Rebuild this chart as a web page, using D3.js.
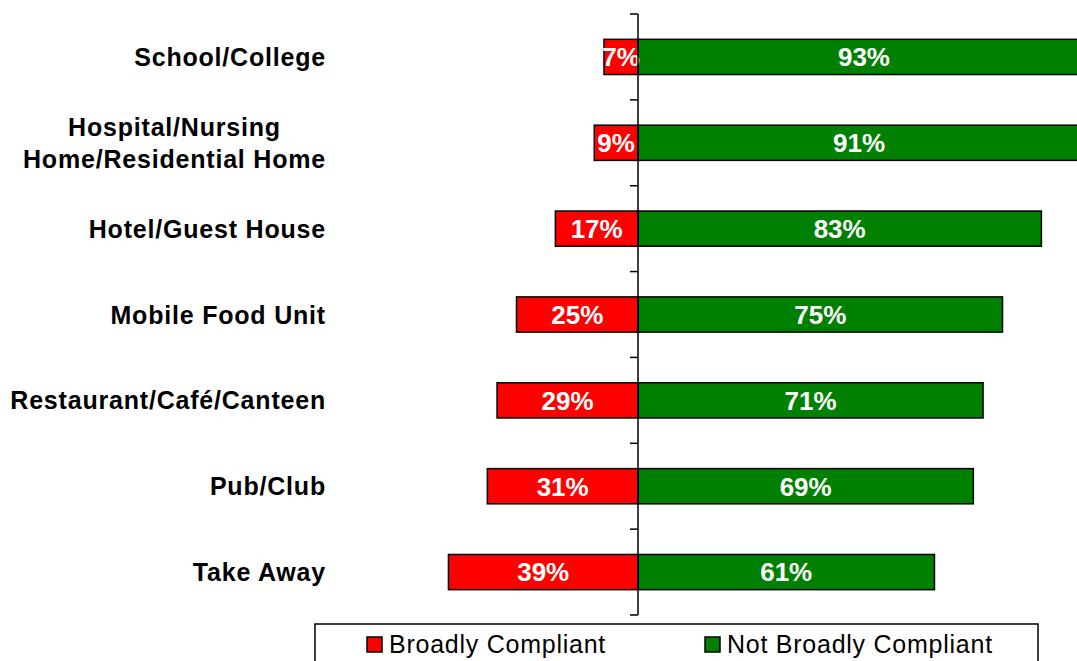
<!DOCTYPE html>
<html>
<head>
<meta charset="utf-8">
<script src="https://cdn.jsdelivr.net/npm/d3@7"></script>
<style>
  body { margin: 0; background: #fff; overflow: hidden; }
  text { font-family: "Liberation Sans", Arial, sans-serif; }
</style>
</head>
<body>
<svg id="chart" width="1077" height="661"></svg>
<script>
// chart data
const categories = [
    ["School/College"],
    ["Hospital/Nursing", "Home/Residential Home"],
    ["Hotel/Guest House"],
    ["Mobile Food Unit"],
    ["Restaurant/Café/Canteen"],
    ["Pub/Club"],
    ["Take Away"]
];
const compliant = [7, 9, 17, 25, 29, 31, 39];
const notCompliant = [93, 91, 83, 75, 71, 69, 61];
const seriesNames = ["Broadly Compliant", "Not Broadly Compliant"];
const seriesColors = ["#ff0000", "#008000"];

const svg = d3.select("#chart");

// scales
const keys = categories.map(c => c.join(" "));
const x = d3.scaleLinear().domain([-50, 100]).range([395, 1124]);
const y = d3.scaleBand().domain(keys).range([14, 615])
    .paddingInner(0.59).paddingOuter(0.295);

const rows = keys.map((k, i) => ({ key: k, lines: categories[i], bc: compliant[i], nbc: notCompliant[i] }));

// bars
const bars = svg.append("g");
bars.selectAll(".red").data(rows).enter().append("rect")
    .attr("x", d => x(-d.bc))
    .attr("y", d => y(d.key))
    .attr("width", d => x(0) - x(-d.bc))
    .attr("height", y.bandwidth())
    .attr("fill", seriesColors[0])
    .attr("stroke", "#000")
    .attr("stroke-width", 1.5);

bars.selectAll(".green").data(rows).enter().append("rect")
    .attr("x", x(0))
    .attr("y", d => y(d.key))
    .attr("width", d => x(d.nbc) - x(0))
    .attr("height", y.bandwidth())
    .attr("fill", seriesColors[1])
    .attr("stroke", "#000")
    .attr("stroke-width", 1.5);

// value labels
const lab = svg.append("g")
    .attr("fill", "#fff")
    .attr("font-weight", "bold")
    .attr("font-size", "26px")
    .attr("text-anchor", "middle");
lab.selectAll(".lr").data(rows).enter().append("text")
    .attr("x", d => (x(-d.bc) + x(0)) / 2)
    .attr("y", d => y(d.key) + y.bandwidth() / 2)
    .attr("dy", "0.36em")
    .text(d => d.bc + "%");
lab.selectAll(".lg").data(rows).enter().append("text")
    .attr("x", d => (x(d.nbc) + x(0)) / 2)
    .attr("y", d => y(d.key) + y.bandwidth() / 2)
    .attr("dy", "0.36em")
    .text(d => d.nbc + "%");

// vertical axis with ticks between categories
const ax = svg.append("g").attr("stroke", "#000").attr("stroke-width", 1.5);
ax.append("line")
    .attr("x1", x(0)).attr("x2", x(0))
    .attr("y1", y.range()[0]).attr("y2", y.range()[1]);
ax.selectAll(".tick").data(d3.range(keys.length + 1)).enter().append("line")
    .attr("x1", x(0) - 8).attr("x2", x(0))
    .attr("y1", i => y.range()[0] + i * y.step())
    .attr("y2", i => y.range()[0] + i * y.step());

// category labels
const catG = svg.append("g")
    .attr("font-weight", "bold")
    .attr("font-size", "25px")
    .attr("letter-spacing", "0.8px")
    .attr("fill", "#000");
rows.forEach(d => {
    const cy = y(d.key) + y.bandwidth() / 2;
    const n = d.lines.length;
    const t = catG.append("text").attr("text-anchor", "middle");
    d.lines.forEach((line, j) => {
        t.append("tspan")
            .attr("y", cy + (j - (n - 1) / 2) * 32)
            .attr("dy", "0.36em")
            .text(line);
    });
    const w = d3.max(t.selectAll("tspan").nodes(), s => s.getComputedTextLength());
    t.selectAll("tspan").attr("x", 326 - w / 2);
});

// legend
const leg = svg.append("g");
leg.append("rect")
    .attr("x", 315).attr("y", 624)
    .attr("width", 723).attr("height", 60)
    .attr("fill", "#fff").attr("stroke", "#000").attr("stroke-width", 1.5);
const legX = [367, 705];
seriesNames.forEach((name, i) => {
    leg.append("rect")
        .attr("x", legX[i]).attr("y", 637)
        .attr("width", 15).attr("height", 15)
        .attr("fill", seriesColors[i]).attr("stroke", "#000").attr("stroke-width", 1.5);
    leg.append("text")
        .attr("x", legX[i] + 22).attr("y", 653)
        .attr("font-size", "25px")
        .attr("letter-spacing", "0.75px")
        .text(name);
});
</script>
</body>
</html>
